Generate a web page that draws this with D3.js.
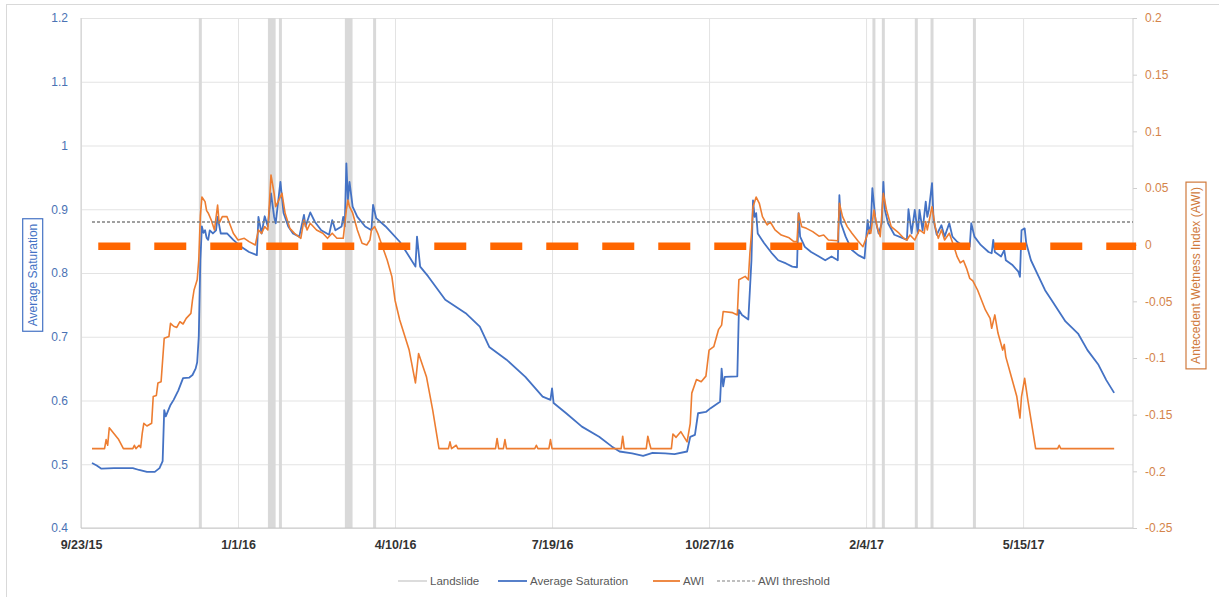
<!DOCTYPE html>
<html><head><meta charset="utf-8">
<script src="https://cdn.jsdelivr.net/npm/d3@7"></script>
<style>
body{margin:0;background:#fff;}
svg{display:block;font-family:"Liberation Sans",Arial,sans-serif;}
</style></head><body>
<svg id="chart" width="1219" height="597"></svg>
<script>
// ---------------- DATA ----------------
const xAxisStart = "9/23/15";
const xAxisEnd = "7/24/17";
const xTickLabels = ["9/23/15","1/1/16","4/10/16","7/19/16","10/27/16","2/4/17","5/15/17"];
const leftTicks = [0.4,0.5,0.6,0.7,0.8,0.9,1,1.1,1.2];
const rightTicks = [-0.25,-0.2,-0.15,-0.1,-0.05,0,0.05,0.1,0.15,0.2];

const landslideDates = ["12/8/15","1/21/16","1/22/16","1/23/16","1/24/16","1/28/16",
  "3/10/16","3/11/16","3/12/16","3/13/16","3/28/16",
  "2/9/17","2/15/17","3/8/17","3/18/17","4/14/17"];

const avgSaturation = [
["9/30/15",0.502],["10/3/15",0.498],["10/6/15",0.493],["10/14/15",0.494],["10/26/15",0.494],
["10/30/15",0.491],["11/4/15",0.488],["11/9/15",0.488],["11/12/15",0.494],["11/14/15",0.505],
["11/15/15",0.585],["11/16/15",0.575],["11/19/15",0.593],["11/21/15",0.601],["11/24/15",0.616],
["11/27/15",0.635],["12/1/15",0.636],["12/3/15",0.640],["12/5/15",0.650],["12/6/15",0.660],
["12/7/15",0.700],["12/8/15",0.820],["12/9/15",0.873],["12/10/15",0.863],["12/11/15",0.867],
["12/12/15",0.855],["12/13/15",0.852],["12/14/15",0.867],["12/16/15",0.862],["12/18/15",0.867],
["12/19/15",0.888],["12/21/15",0.862],["12/25/15",0.862],["12/29/15",0.852],["1/3/16",0.841],
["1/8/16",0.833],["1/13/16",0.828],["1/14/16",0.888],["1/16/16",0.862],["1/18/16",0.889],
["1/20/16",0.873],["1/22/16",0.925],["1/24/16",0.888],["1/25/16",0.878],["1/28/16",0.943],
["1/30/16",0.894],["2/2/16",0.873],["2/5/16",0.862],["2/9/16",0.857],["2/12/16",0.891],
["2/13/16",0.873],["2/16/16",0.895],["2/19/16",0.880],["2/23/16",0.867],["2/28/16",0.860],
["3/1/16",0.883],["3/3/16",0.867],["3/7/16",0.873],["3/8/16",0.888],["3/9/16",0.873],
["3/10/16",0.972],["3/11/16",0.915],["3/12/16",0.943],["3/14/16",0.904],["3/17/16",0.888],
["3/22/16",0.873],["3/26/16",0.867],["3/27/16",0.907],["3/29/16",0.886],["4/4/16",0.873],
["4/13/16",0.849],["4/19/16",0.826],["4/23/16",0.810],["4/24/16",0.857],["4/26/16",0.810],
["5/1/16",0.795],["5/12/16",0.758],["5/25/16",0.737],["6/3/16",0.716],["6/9/16",0.684],
["6/20/16",0.664],["7/2/16",0.637],["7/13/16",0.606],["7/18/16",0.601],["7/19/16",0.619],
["7/20/16",0.596],["7/28/16",0.580],["8/7/16",0.559],["8/18/16",0.543],["8/26/16",0.528],
["8/31/16",0.520],["9/8/16",0.517],["9/15/16",0.513],["9/21/16",0.518],["9/29/16",0.517],
["10/5/16",0.516],["10/13/16",0.520],["10/15/16",0.543],["10/18/16",0.546],["10/20/16",0.580],
["10/25/16",0.582],["10/28/16",0.588],["11/3/16",0.598],["11/4/16",0.650],["11/5/16",0.622],
["11/6/16",0.637],["11/14/16",0.638],["11/15/16",0.742],["11/17/16",0.734],["11/21/16",0.727],
["11/22/16",0.773],["11/23/16",0.820],["11/24/16",0.914],["11/25/16",0.888],["11/26/16",0.894],
["11/27/16",0.862],["12/1/16",0.847],["12/6/16",0.831],["12/10/16",0.820],["12/15/16",0.815],
["12/19/16",0.810],["12/22/16",0.809],["12/23/16",0.894],["12/24/16",0.857],["12/27/16",0.841],
["12/31/16",0.833],["1/5/17",0.826],["1/9/17",0.820],["1/13/17",0.826],["1/17/17",0.820],
["1/18/17",0.922],["1/19/17",0.878],["1/22/17",0.857],["1/26/17",0.836],["1/30/17",0.828],
["2/3/17",0.823],["2/5/17",0.883],["2/6/17",0.862],["2/7/17",0.875],["2/8/17",0.933],
["2/10/17",0.883],["2/12/17",0.862],["2/14/17",0.878],["2/15/17",0.943],["2/16/17",0.899],
["2/18/17",0.878],["2/22/17",0.860],["2/27/17",0.855],["3/2/17",0.852],["3/3/17",0.900],
["3/5/17",0.862],["3/7/17",0.899],["3/9/17",0.862],["3/10/17",0.899],["3/12/17",0.867],
["3/14/17",0.912],["3/15/17",0.888],["3/16/17",0.899],["3/18/17",0.941],["3/19/17",0.883],
["3/21/17",0.860],["3/24/17",0.875],["3/26/17",0.857],["3/29/17",0.878],["3/31/17",0.857],
["4/3/17",0.849],["4/6/17",0.844],["4/11/17",0.841],["4/12/17",0.878],["4/14/17",0.857],
["4/18/17",0.844],["4/23/17",0.833],["4/25/17",0.831],["4/26/17",0.852],["4/27/17",0.833],
["5/1/17",0.826],["5/3/17",0.836],["5/4/17",0.820],["5/8/17",0.813],["5/12/17",0.802],
["5/13/17",0.794],["5/14/17",0.867],["5/16/17",0.870],["5/17/17",0.847],["5/20/17",0.820],
["5/25/17",0.794],["5/29/17",0.773],["6/2/17",0.758],["6/11/17",0.724],["6/19/17",0.705],
["6/25/17",0.679],["7/2/17",0.656],["7/7/17",0.632],["7/12/17",0.612]
];

const awi = [
["9/30/15",-0.18],["10/8/15",-0.18],["10/9/15",-0.172],["10/10/15",-0.177],["10/11/15",-0.1615],
["10/17/15",-0.172],["10/20/15",-0.18],["10/26/15",-0.18],["10/27/15",-0.177],["10/28/15",-0.18],
["10/30/15",-0.177],["10/31/15",-0.179],["11/1/15",-0.1665],["11/2/15",-0.1576],["11/4/15",-0.16],
["11/7/15",-0.1576],["11/8/15",-0.134],["11/10/15",-0.133],["11/11/15",-0.122],["11/13/15",-0.121],
["11/15/15",-0.0826],["11/18/15",-0.081],["11/19/15",-0.0694],["11/21/15",-0.072],["11/23/15",-0.073],
["11/25/15",-0.068],["11/27/15",-0.07],["11/29/15",-0.065],["12/2/15",-0.0606],["12/3/15",-0.049],
["12/4/15",-0.04],["12/6/15",-0.031],["12/7/15",-0.0135],["12/8/15",0.025],["12/9/15",0.042],
["12/11/15",0.038],["12/12/15",0.030],["12/13/15",0.028],["12/15/15",0.0215],["12/17/15",0.013],
["12/19/15",0.035],["12/20/15",0.019],["12/22/15",0.0247],["12/25/15",0.0247],["12/27/15",0.0174],
["12/29/15",0.0101],["1/1/16",0.0041],["1/5/16",0.0056],["1/8/16",0.0027],["1/12/16",-0.0003],
["1/14/16",0.013],["1/16/16",0.010],["1/18/16",0.0159],["1/20/16",0.013],["1/22/16",0.0615],
["1/24/16",0.0453],["1/25/16",0.0335],["1/29/16",0.0453],["1/31/16",0.0277],["2/3/16",0.0144],
["2/6/16",0.010],["2/10/16",0.0056],["2/12/16",0.0218],["2/14/16",0.013],["2/16/16",0.0189],
["2/20/16",0.013],["2/24/16",0.0101],["2/27/16",0.0056],["3/1/16",0.0101],["3/4/16",0.0056],
["3/8/16",0.0056],["3/10/16",0.0306],["3/11/16",0.0394],["3/12/16",0.0335],["3/14/16",0.028],
["3/17/16",0.013],["3/20/16",0.0013],["3/23/16",-0.0003],["3/25/16",0.0041],["3/26/16",0.013],
["3/28/16",0.0159],["3/30/16",0.010],["4/2/16",-0.0018],["4/5/16",-0.0135],["4/8/16",-0.0282],
["4/10/16",-0.049],["4/13/16",-0.0665],["4/19/16",-0.093],["4/23/16",-0.122],["4/25/16",-0.096],
["4/30/16",-0.1165],["5/4/16",-0.146],["5/8/16",-0.18],["5/14/16",-0.18],["5/15/16",-0.174],
["5/16/16",-0.18],["5/19/16",-0.177],["5/20/16",-0.18],["6/13/16",-0.18],["6/14/16",-0.171],
["6/15/16",-0.18],["6/18/16",-0.18],["6/19/16",-0.172],["6/20/16",-0.18],["7/8/16",-0.18],
["7/9/16",-0.177],["7/10/16",-0.18],["7/17/16",-0.18],["7/18/16",-0.172],["7/19/16",-0.18],
["9/1/16",-0.18],["9/2/16",-0.169],["9/3/16",-0.18],["9/17/16",-0.18],["9/18/16",-0.169],
["9/19/16",-0.175],["9/20/16",-0.18],["10/3/16",-0.18],["10/4/16",-0.167],["10/6/16",-0.17],
["10/9/16",-0.165],["10/13/16",-0.174],["10/15/16",-0.158],["10/16/16",-0.131],["10/19/16",-0.119],
["10/22/16",-0.121],["10/25/16",-0.116],["10/27/16",-0.093],["10/30/16",-0.09],["11/2/16",-0.075],
["11/4/16",-0.071],["11/5/16",-0.059],["11/11/16",-0.06],["11/14/16",-0.062],["11/15/16",-0.031],
["11/19/16",-0.028],["11/21/16",-0.031],["11/22/16",-0.0076],["11/23/16",0.01],["11/24/16",0.0335],
["11/26/16",0.042],["11/28/16",0.0365],["11/30/16",0.0247],["12/3/16",0.0174],["12/5/16",0.020],
["12/8/16",0.013],["12/12/16",0.0085],["12/17/16",0.006],["12/20/16",0.0027],["12/22/16",0.0027],
["12/23/16",0.0277],["12/25/16",0.0159],["12/28/16",0.0144],["1/1/17",0.0115],["1/5/17",0.0075],
["1/8/17",0.0085],["1/11/17",0.0041],["1/17/17",0.0035],["1/18/17",0.0365],["1/20/17",0.0247],
["1/23/17",0.0159],["1/26/17",0.0101],["1/30/17",0.003],["2/2/17",-0.0018],["2/6/17",0.013],
["2/7/17",0.010],["2/9/17",0.0306],["2/11/17",0.0159],["2/13/17",0.0071],["2/15/17",0.0453],
["2/17/17",0.0306],["2/20/17",0.0159],["2/25/17",0.0101],["2/28/17",0.0056],["3/2/17",0.0041],
["3/4/17",0.0085],["3/7/17",0.0041],["3/10/17",0.013],["3/13/17",0.010],["3/14/17",0.0203],
["3/15/17",0.013],["3/18/17",0.0335],["3/20/17",0.0159],["3/22/17",0.0056],["3/24/17",0.013],
["3/26/17",0.0041],["3/29/17",0.0101],["4/1/17",-0.0018],["4/3/17",-0.0106],["4/5/17",-0.016],
["4/7/17",-0.014],["4/9/17",-0.0209],["4/11/17",-0.0297],["4/13/17",-0.032],["4/16/17",-0.04],
["4/21/17",-0.0576],["4/24/17",-0.065],["4/25/17",-0.0738],["4/27/17",-0.062],["4/29/17",-0.078],
["5/2/17",-0.093],["5/3/17",-0.088],["5/4/17",-0.099],["5/8/17",-0.119],["5/11/17",-0.134],
["5/13/17",-0.153],["5/14/17",-0.134],["5/16/17",-0.118],["5/18/17",-0.137],["5/23/17",-0.18],
["6/6/17",-0.18],["6/7/17",-0.177],["6/8/17",-0.18],["7/12/17",-0.18]
];

const awiThreshold = 0.02;
const thresholdSpan = ["9/30/15","7/24/17"];
const zeroMarkerValue = 0;
const zeroMarkerSpan = ["10/4/15","7/26/17"];

const legendItems = ["Landslide","Average Saturation","AWI","AWI threshold"];

// ---------------- CHART ----------------
const parse = d3.utcParse("%m/%d/%y");
const svg = d3.select("#chart");
const m = {left:81, right:1133, top:18, bottom:528};

const x = d3.scaleUtc().domain([parse(xAxisStart), parse(xAxisEnd)]).range([m.left, m.right]);
const yL = d3.scaleLinear().domain([0.4, 1.2]).range([m.bottom, m.top]);
const yR = d3.scaleLinear().domain([-0.25, 0.2]).range([m.bottom, m.top]);
const xTicks = xTickLabels.map(parse);

const C = {blue:"#4472C4", orange:"#ED7D31", land:"#D9D9D9", grid:"#E3E3E3", axis:"#CFCFCF"};

// outer chart border
svg.append("rect").attr("x",6.5).attr("y",4.5).attr("width",1240).attr("height",620)
  .attr("fill","#fff").attr("stroke","#D9D9D9").attr("stroke-width",1);

// horizontal gridlines
svg.append("g").attr("transform",`translate(${m.left},0)`)
  .call(d3.axisLeft(yL).tickValues(leftTicks).tickSize(-(m.right-m.left)).tickFormat(""))
  .call(g=>g.select(".domain").remove())
  .call(g=>g.selectAll("line").attr("stroke",C.grid).attr("stroke-width",1));

// vertical gridlines
svg.append("g").attr("transform",`translate(0,${m.bottom})`)
  .call(d3.axisBottom(x).tickValues(xTicks).tickSize(-(m.bottom-m.top)).tickFormat(""))
  .call(g=>g.select(".domain").remove())
  .call(g=>g.selectAll("line").attr("stroke",C.grid).attr("stroke-width",1));

// landslide lines
svg.append("g").selectAll("line").data(landslideDates).join("line")
  .attr("x1",d=>x(parse(d))).attr("x2",d=>x(parse(d)))
  .attr("y1",m.top).attr("y2",m.bottom)
  .attr("stroke",C.land).attr("stroke-width",3);

// axis lines
svg.append("line").attr("x1",m.left).attr("x2",m.left).attr("y1",m.top).attr("y2",m.bottom)
  .attr("stroke",C.axis);
svg.append("line").attr("x1",m.right).attr("x2",m.right).attr("y1",m.top).attr("y2",m.bottom)
  .attr("stroke",C.axis);
svg.append("line").attr("x1",m.left).attr("x2",m.right).attr("y1",m.bottom).attr("y2",m.bottom)
  .attr("stroke","#C8C8C8");

// left axis labels
svg.append("g").attr("transform",`translate(${m.left},0)`)
  .call(d3.axisLeft(yL).tickValues(leftTicks).tickSize(0).tickPadding(13).tickFormat(d=>String(d)))
  .call(g=>g.select(".domain").remove())
  .call(g=>g.selectAll("text").attr("fill","#4A72B4").style("font-size","12px")
     .style("font-family",'"Liberation Sans",Arial,sans-serif'));

// right axis
svg.append("g").attr("transform",`translate(${m.right},0)`)
  .call(d3.axisRight(yR).tickValues(rightTicks).tickSize(4).tickPadding(8).tickFormat(d=>String(d)))
  .call(g=>g.select(".domain").remove())
  .call(g=>g.selectAll("line").attr("stroke",C.axis))
  .call(g=>g.selectAll("text").attr("fill","#D4844A").style("font-size","12px")
     .style("font-family",'"Liberation Sans",Arial,sans-serif'));

// bottom axis labels
svg.append("g").attr("transform",`translate(0,${m.bottom})`)
  .call(d3.axisBottom(x).tickValues(xTicks).tickSize(0).tickPadding(12)
     .tickFormat((d,i)=>xTickLabels[i]))
  .call(g=>g.select(".domain").remove())
  .call(g=>g.selectAll("text").attr("fill","#333").style("font-size","12.5px")
     .style("font-weight","bold").style("font-family",'"Liberation Sans",Arial,sans-serif'));

// series
const lineL = d3.line().x(d=>x(parse(d[0]))).y(d=>yL(d[1]));
const lineR = d3.line().x(d=>x(parse(d[0]))).y(d=>yR(d[1]));

svg.append("path").datum(avgSaturation).attr("d",lineL)
  .attr("fill","none").attr("stroke",C.blue).attr("stroke-width",1.8).attr("stroke-linejoin","round");
svg.append("path").datum(awi).attr("d",lineR)
  .attr("fill","none").attr("stroke",C.orange).attr("stroke-width",1.6).attr("stroke-linejoin","round");

// AWI threshold
svg.append("path").datum(thresholdSpan.map(d=>[d,awiThreshold])).attr("d",lineR)
  .attr("fill","none").attr("stroke","#808080").attr("stroke-width",1.3).attr("stroke-dasharray","3,2");

// thick orange zero marker
svg.append("path").datum(zeroMarkerSpan.map(d=>[d,zeroMarkerValue])).attr("d",lineR)
  .attr("fill","none").attr("stroke","#FF6600").attr("stroke-width",7.5).attr("stroke-dasharray","32,24")
  .attr("transform","translate(0,1.5)");

// axis titles
function boxedTitle(cx, cy, text, color){
  const g = svg.append("g").attr("transform",`translate(${cx},${cy}) rotate(-90)`);
  const r = g.append("rect").attr("fill","#fff").attr("stroke",color).attr("stroke-width",1.2);
  const t = g.append("text").attr("text-anchor","middle").attr("dy","0.35em")
    .attr("fill",color).style("font-size","12px").text(text);
  const w = t.node().getComputedTextLength() + 10;
  r.attr("x",-w/2).attr("y",-10).attr("width",w).attr("height",20);
}
boxedTitle(32.7, 275, "Average Saturation", C.blue);
boxedTitle(1196, 275.5, "Antecedent Wetness Index (AWI)", "#D07A3C");

// legend
const legY = 581;
const legX = [398, 498, 653, 717];
const legLen = [29, 29, 27, 38];
const leg = svg.append("g");
legendItems.forEach((name,i)=>{
  const ln = leg.append("line").attr("x1",legX[i]).attr("x2",legX[i]+legLen[i])
    .attr("y1",legY).attr("y2",legY);
  if(i===0) ln.attr("stroke",C.land).attr("stroke-width",1.8);
  if(i===1) ln.attr("stroke",C.blue).attr("stroke-width",1.8);
  if(i===2) ln.attr("stroke",C.orange).attr("stroke-width",1.8);
  if(i===3) ln.attr("stroke","#808080").attr("stroke-width",1.2).attr("stroke-dasharray","3,2");
  leg.append("text").attr("x",legX[i]+legLen[i]+3).attr("y",legY).attr("dy","0.35em")
    .attr("fill","#595959").style("font-size","11.5px").text(name);
});
</script>
</body></html>
